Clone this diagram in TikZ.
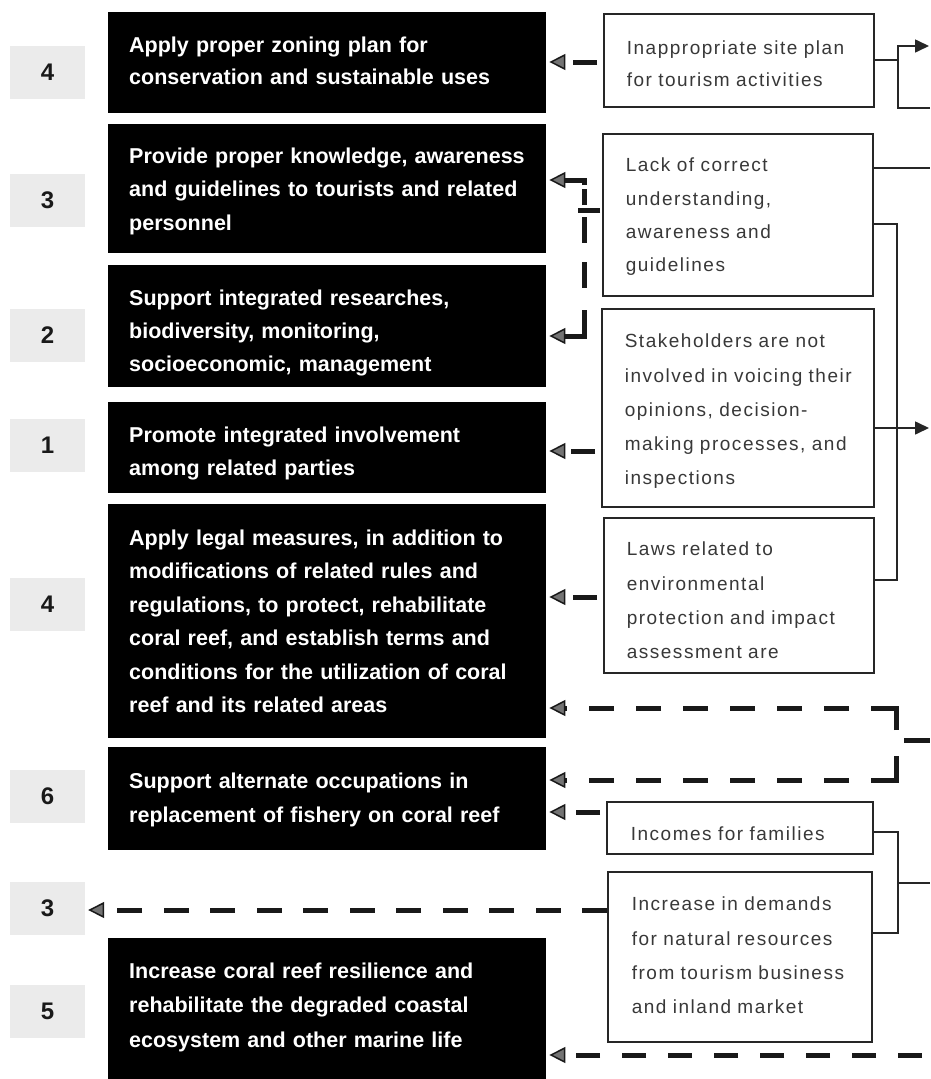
\documentclass[tikz,border=0pt]{standalone}
\usepackage{fontspec}
\setmainfont{Liberation Sans}
\newfontfamily\lightfont{Liberation Sans}[LetterSpace=8]
\usetikzlibrary{arrows.meta}
\begin{document}
\begin{tikzpicture}[x=1pt,y=-1pt,
  blackbox/.style={fill=black, text=white, anchor=north west, inner ysep=0pt,
    inner xsep=21pt, text width=396pt, minimum width=438pt, align=left,
    font=\fontsize{21.5}{33.5}\selectfont\bfseries},
  rbox/.style={draw=black!85, line width=1.6pt, fill=white, anchor=north west,
    inner ysep=0pt, inner xsep=23pt, text width=224pt, minimum width=270pt,
    align=left, text=black!78, font=\lightfont\fontsize{19}{34.2}\selectfont},
  numbox/.style={fill=black!8, minimum width=75pt, minimum height=53pt,
    inner sep=0pt, font=\fontsize{24}{28}\selectfont\bfseries, text=black!90},
  dtip/.tip={Triangle[length=16pt,width=16pt,fill=black!55,color=black!90,line width=1.5pt]},
  dline/.style={line width=5pt, draw=black!90},
  darrow/.style={dline, -{dtip}, shorten >=3pt},
  sarrow/.style={darrow, dash pattern=on 24pt off 86pt, dash phase=104pt},
  tline/.style={line width=1.6pt, draw=black!85},
  tarrow/.style={tline, -{Triangle[length=14pt,width=13pt]}}
]
\fill[white] (0,0) rectangle (930,1079);
\useasboundingbox (0,0) rectangle (930,1079);

% number boxes
\node[numbox] (n1) at (47.5,72.5) {4};
\node[numbox] (n2) at (47.5,200) {3};
\node[numbox] (n3) at (47.5,335.5) {2};
\node[numbox] (n4) at (47.5,445) {1};
\node[numbox] (n5) at (47.5,604) {4};
\node[numbox] (n6) at (47.5,796) {6};
\node[numbox] (n7) at (47.5,908) {3};
\node[numbox] (n8) at (47.5,1011.5) {5};

% black boxes
\node[blackbox, text height=40pt, text depth=61pt, font=\fontsize{21.5}{32}\selectfont\bfseries] (b1) at (108,12)
  {\mbox{Apply proper zoning plan for}\\\mbox{conservation and sustainable uses}};
\node[blackbox, text height=39pt, text depth=90pt] (b2) at (108,124)
  {\mbox{Provide proper knowledge, awareness}\\\mbox{and guidelines to tourists and related}\\\mbox{personnel}};
\node[blackbox, text height=40pt, text depth=82pt, font=\fontsize{21.5}{33}\selectfont\bfseries] (b3) at (108,265)
  {\mbox{Support integrated researches,}\\\mbox{biodiversity, monitoring,}\\\mbox{socioeconomic, management}};
\node[blackbox, text height=40pt, text depth=51pt, font=\fontsize{21.5}{33}\selectfont\bfseries] (b4) at (108,402)
  {\mbox{Promote integrated involvement}\\\mbox{among related parties}};
\node[blackbox, text height=41pt, text depth=193pt] (b5) at (108,504)
  {\mbox{Apply legal measures, in addition to}\\\mbox{modifications of related rules and}\\\mbox{regulations, to protect, rehabilitate}\\\mbox{coral reef, and establish terms and}\\\mbox{conditions for the utilization of coral}\\\mbox{reef and its related areas}};
\node[blackbox, text height=41pt, text depth=62pt, font=\fontsize{21.5}{34}\selectfont\bfseries] (b6) at (108,747)
  {\mbox{Support alternate occupations in}\\\mbox{replacement of fishery on coral reef}};
\node[blackbox, text height=40pt, text depth=101pt, font=\fontsize{21.5}{34.5}\selectfont\bfseries] (b7) at (108,938)
  {\mbox{Increase coral reef resilience and}\\\mbox{rehabilitate the degraded coastal}\\\mbox{ecosystem and other marine life}};

% right boxes
\node[rbox, text height=41pt, text depth=52pt, font=\lightfont\fontsize{19}{32}\selectfont] (r1) at (603,13)
  {\mbox{Inappropriate site plan}\\\mbox{for tourism activities}};
\node[rbox, text height=38pt, text depth=124pt, font=\lightfont\fontsize{19}{33.3}\selectfont] (r2) at (602,133)
  {\mbox{Lack of correct}\\\mbox{understanding,}\\\mbox{awareness and}\\\mbox{guidelines}};
\node[rbox, text height=39pt, text depth=159pt, minimum width=272pt, text width=226pt] (r3) at (601,308)
  {\mbox{Stakeholders are not}\\\mbox{involved in voicing their}\\\mbox{opinions, decision-}\\\mbox{making processes, and}\\\mbox{inspections}};
\node[rbox, text height=38pt, text depth=117pt] (r4) at (603,517)
  {\mbox{Laws related to}\\\mbox{environmental}\\\mbox{protection and impact}\\\mbox{assessment are}};
\node[rbox, text height=39pt, text depth=13pt, inner xsep=24pt, text width=218pt, minimum width=266pt] (r5) at (606,801)
  {\mbox{Incomes for families}};
\node[rbox, text height=39pt, text depth=131pt, inner xsep=24pt, text width=216pt, minimum width=264pt] (r6) at (607,871)
  {\mbox{Increase in demands}\\\mbox{for natural resources}\\\mbox{from tourism business}\\\mbox{and inland market}};

% coordinates
\coordinate (a1) at (0,62);
\coordinate (j2) at (584,210);
\coordinate (j2x) at (578,210);
\coordinate (a2u) at (0,180);
\coordinate (a2d) at (0,336);
\coordinate (a3) at (0,451);
\coordinate (a4) at (0,597);
\coordinate (k5) at (896,730);
\coordinate (k5t) at (896,708);
\coordinate (k6) at (896,756);
\coordinate (k6b) at (896,780);
\coordinate (s5a) at (904,740);
\coordinate (s5b) at (930,740);
\coordinate (a6) at (0,812);
\coordinate (a7) at (0,910);
\coordinate (e8) at (930,1055);

% dashed connectors (left)
\draw[sarrow] (r1.west |- a1) -- (b1.east |- a1);
\draw[dline, dash pattern=on 22pt off 22pt, dash phase=42pt] (r2.west |- j2) -- (j2x);
\draw[darrow, dash pattern=on 16pt off 4pt on 80pt off 5pt, dash phase=100pt] (j2) |- (b2.east |- a2u);
\draw[darrow, dash pattern=on 26pt off 19pt on 26pt off 22pt on 80pt off 7pt, dash phase=173pt] (j2) |- (b3.east |- a2d);
\draw[sarrow] (r3.west |- a3) -- (b4.east |- a3);
\draw[sarrow] (r4.west |- a4) -- (b5.east |- a4);
\draw[darrow, dash pattern=on 47pt off 22pt on 25pt off 22pt on 25pt off 22pt on 25pt off 22pt on 25pt off 22pt on 25pt off 22pt on 25pt off 22pt on 25pt off 60pt] (k5) -- (k5t) -- (b5.east |- k5t);
\draw[darrow, dash pattern=on 49pt off 22pt on 25pt off 22pt on 25pt off 22pt on 25pt off 22pt on 25pt off 22pt on 25pt off 22pt on 25pt off 22pt on 25pt off 60pt] (k6) -- (k6b) -- (b6.east |- k6b);
\draw[dline] (s5a) -- (s5b);
\draw[sarrow] (r5.west |- a6) -- (b6.east |- a6);
\draw[darrow, dash pattern=on 25pt off 21.5pt] (r6.west |- a7) -- (n7.east |- a7);
\draw[darrow, dash pattern=on 24pt off 22pt, dash phase=38pt] (e8) -- (b7.east |- e8);

% thin connectors (right)
\coordinate (c1) at (898,60);
\coordinate (c1t) at (898,46);
\coordinate (c1b) at (898,108);
\coordinate (e1t) at (929,46);
\coordinate (e1b) at (930,108);
\draw[tline] (r1.east |- c1) -- (c1);
\draw[tarrow] (e1b) -- (c1b) -- (c1t) -- (e1t);
\coordinate (e2) at (930,168);
\draw[tline] (r2.east |- e2) -- (e2);
\coordinate (c3t) at (897,224);
\coordinate (c3b) at (897,580);
\draw[tline] (r2.east |- c3t) -- (c3t) -- (c3b) -- (r4.east |- c3b);
\coordinate (e4) at (929,428);
\draw[tarrow] (r3.east |- e4) -- (e4);
\coordinate (c5t) at (898,832);
\coordinate (c5b) at (898,933);
\coordinate (c5m) at (898,883);
\coordinate (e5) at (930,883);
\draw[tline] (r5.east |- c5t) -- (c5t) -- (c5b) -- (r6.east |- c5b);
\draw[tline] (c5m) -- (e5);
\end{tikzpicture}
\end{document}
